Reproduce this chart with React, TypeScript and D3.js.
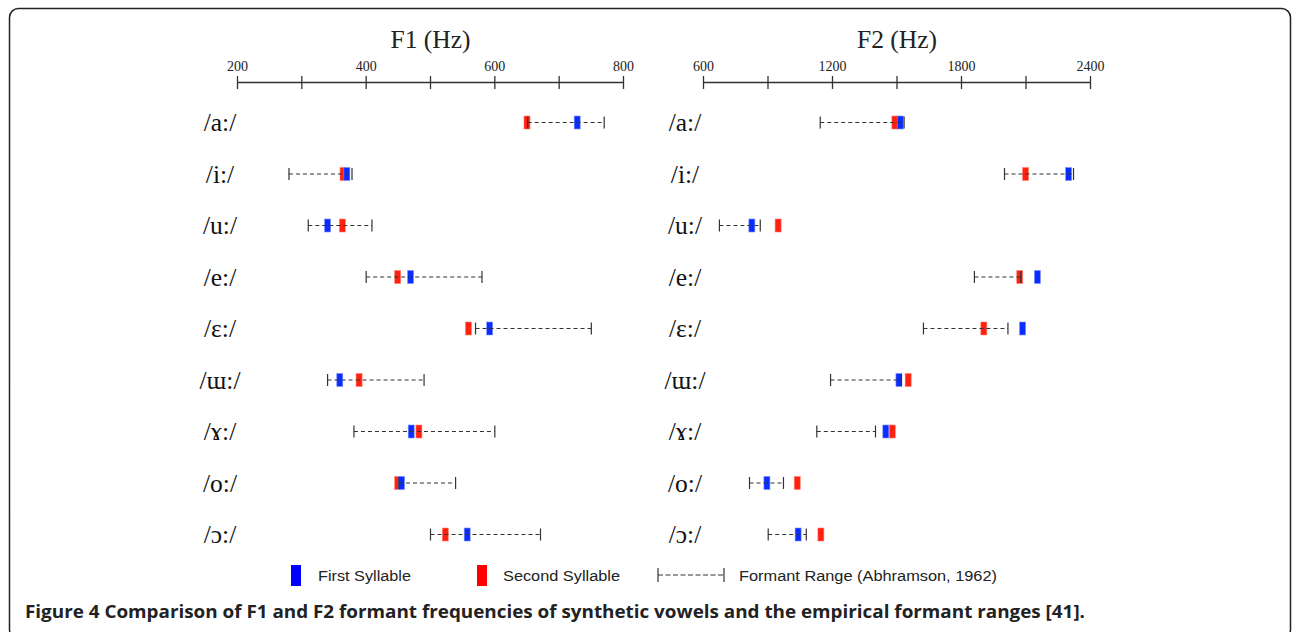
import React from "react";
import * as d3 from "d3";

const vowels = ["/a:/", "/i:/", "/u:/", "/e:/", "/ɛ:/", "/ɯ:/", "/ɤ:/", "/o:/", "/ɔ:/"];
const f1First = [728, 370, 340, 469, 592, 359, 470, 455, 557];
const f1Second = [650, 364, 363, 449, 559, 389, 482, 449, 523];
const f1RangeLow = [651, 280, 310, 400, 570, 340, 381, 451, 500];
const f1RangeHigh = [770, 378, 409, 580, 750, 490, 600, 539, 671];
const f2First = [1515, 2298, 825, 2153, 2084, 1509, 1448, 895, 1040];
const f2Second = [1490, 2098, 947, 2071, 1904, 1552, 1478, 1036, 1146];
const f2RangeLow = [1143, 2000, 674, 1860, 1623, 1191, 1127, 814, 901];
const f2RangeHigh = [1533, 2321, 864, 2076, 2016, 1520, 1400, 972, 1078];
const f1Ticks = [200, 300, 400, 500, 600, 700, 800];
const f1Labels = [200, 400, 600, 800];
const f2Ticks = [600, 900, 1200, 1500, 1800, 2100, 2400];
const f2Labels = [600, 1200, 1800, 2400];

const BLUE = "#0a2dff";
const RED = "#ff2010";
const INK = "#333";
const SERIF = "'Liberation Serif', 'DejaVu Serif', serif";
const SANS = "'Liberation Sans', Arial, sans-serif";

type PanelProps = {
  title: string;
  domain: [number, number];
  range: [number, number];
  ticks: number[];
  labels: number[];
  first: number[];
  second: number[];
  low: number[];
  high: number[];
  labelX: number;
};

const rowY = d3.scalePoint<string>().domain(vowels).range([122.5, 534.5]);

function Panel(p: PanelProps) {
  const x = d3.scaleLinear().domain(p.domain).range(p.range);
  const axisY = 82.5;
  const mw = 6;
  const mh = 13;
  return (
    <g>
      <text x={(p.range[0] + p.range[1]) / 2} y={48} textAnchor="middle" fontFamily={SERIF} fontSize={25.5} fill="#222">
        {p.title}
      </text>
      <line x1={x(p.domain[0])} x2={x(p.domain[1])} y1={axisY} y2={axisY} stroke={INK} strokeWidth={1.3} />
      {p.ticks.map((t) => (
        <line key={t} x1={x(t)} x2={x(t)} y1={axisY - 6.5} y2={axisY + 6.5} stroke={INK} strokeWidth={1.3} />
      ))}
      {p.labels.map((t) => (
        <text key={t} x={x(t)} y={71} textAnchor="middle" fontFamily={SERIF} fontSize={14} fill="#222">
          {t}
        </text>
      ))}
      {vowels.map((v, i) => {
        const y = rowY(v) as number;
        return (
          <g key={v}>
            <text x={p.labelX} y={y + 8.5} textAnchor="middle" fontFamily={SERIF} fontSize={25.5} fill="#111">
              {v}
            </text>
            <rect x={x(p.second[i]) - mw / 2} y={y - mh / 2} width={mw} height={mh} fill={RED} stroke="#ff8070" strokeWidth={0.6} />
            <rect x={x(p.first[i]) - mw / 2} y={y - mh / 2} width={mw} height={mh} fill={BLUE} stroke="#7f90ff" strokeWidth={0.6} />
            <line x1={x(p.low[i])} x2={x(p.high[i])} y1={y} y2={y} stroke={INK} strokeWidth={1} strokeDasharray="4,3" />
            <line x1={x(p.low[i])} x2={x(p.low[i])} y1={y - 6} y2={y + 6} stroke={INK} strokeWidth={1.2} />
            <line x1={x(p.high[i])} x2={x(p.high[i])} y1={y - 6} y2={y + 6} stroke={INK} strokeWidth={1.2} />
          </g>
        );
      })}
    </g>
  );
}

export default function App() {
  return (
    <svg width={1292} height={632} style={{ position: "absolute", left: 0, top: 0, background: "#fff" }}>
      <rect x={9.5} y={8.5} width={1281} height={630} rx={9} ry={9} fill="#fff" stroke="#222" strokeWidth={1.5} />
      <Panel title="F1 (Hz)" domain={[200, 800]} range={[237.5, 623.5]} ticks={f1Ticks} labels={f1Labels}
        first={f1First} second={f1Second} low={f1RangeLow} high={f1RangeHigh} labelX={220} />
      <Panel title="F2 (Hz)" domain={[600, 2400]} range={[703.5, 1090.5]} ticks={f2Ticks} labels={f2Labels}
        first={f2First} second={f2Second} low={f2RangeLow} high={f2RangeHigh} labelX={685} />
      {/* legend */}
      <rect x={291} y={565} width={10} height={21} fill="#0000ff" />
      <text x={318} y={581} fontFamily={SANS} fontSize={15.5} fill="#222" textLength={93} lengthAdjust="spacingAndGlyphs">First Syllable</text>
      <rect x={477} y={565} width={10} height={21} fill="#ff0000" />
      <text x={503} y={581} fontFamily={SANS} fontSize={15.5} fill="#222" textLength={117} lengthAdjust="spacingAndGlyphs">Second Syllable</text>
      <line x1={658} x2={724} y1={575} y2={575} stroke={INK} strokeWidth={1} strokeDasharray="5,2.5" />
      <line x1={658} x2={658} y1={568} y2={582} stroke={INK} strokeWidth={1.2} />
      <line x1={724} x2={724} y1={568} y2={582} stroke={INK} strokeWidth={1.2} />
      <text x={739} y={581} fontFamily={SANS} fontSize={15.5} fill="#222" textLength={258} lengthAdjust="spacingAndGlyphs">Formant Range (Abhramson, 1962)</text>
      {/* caption */}
      <text x={25} y={618} fontFamily="'Open Sans', 'Noto Sans', sans-serif" fontWeight={700} fontSize={17.5} fill="#222" textLength={1060} lengthAdjust="spacingAndGlyphs">
        Figure 4 Comparison of F1 and F2 formant frequencies of synthetic vowels and the empirical formant ranges [41].
      </text>
    </svg>
  );
}
